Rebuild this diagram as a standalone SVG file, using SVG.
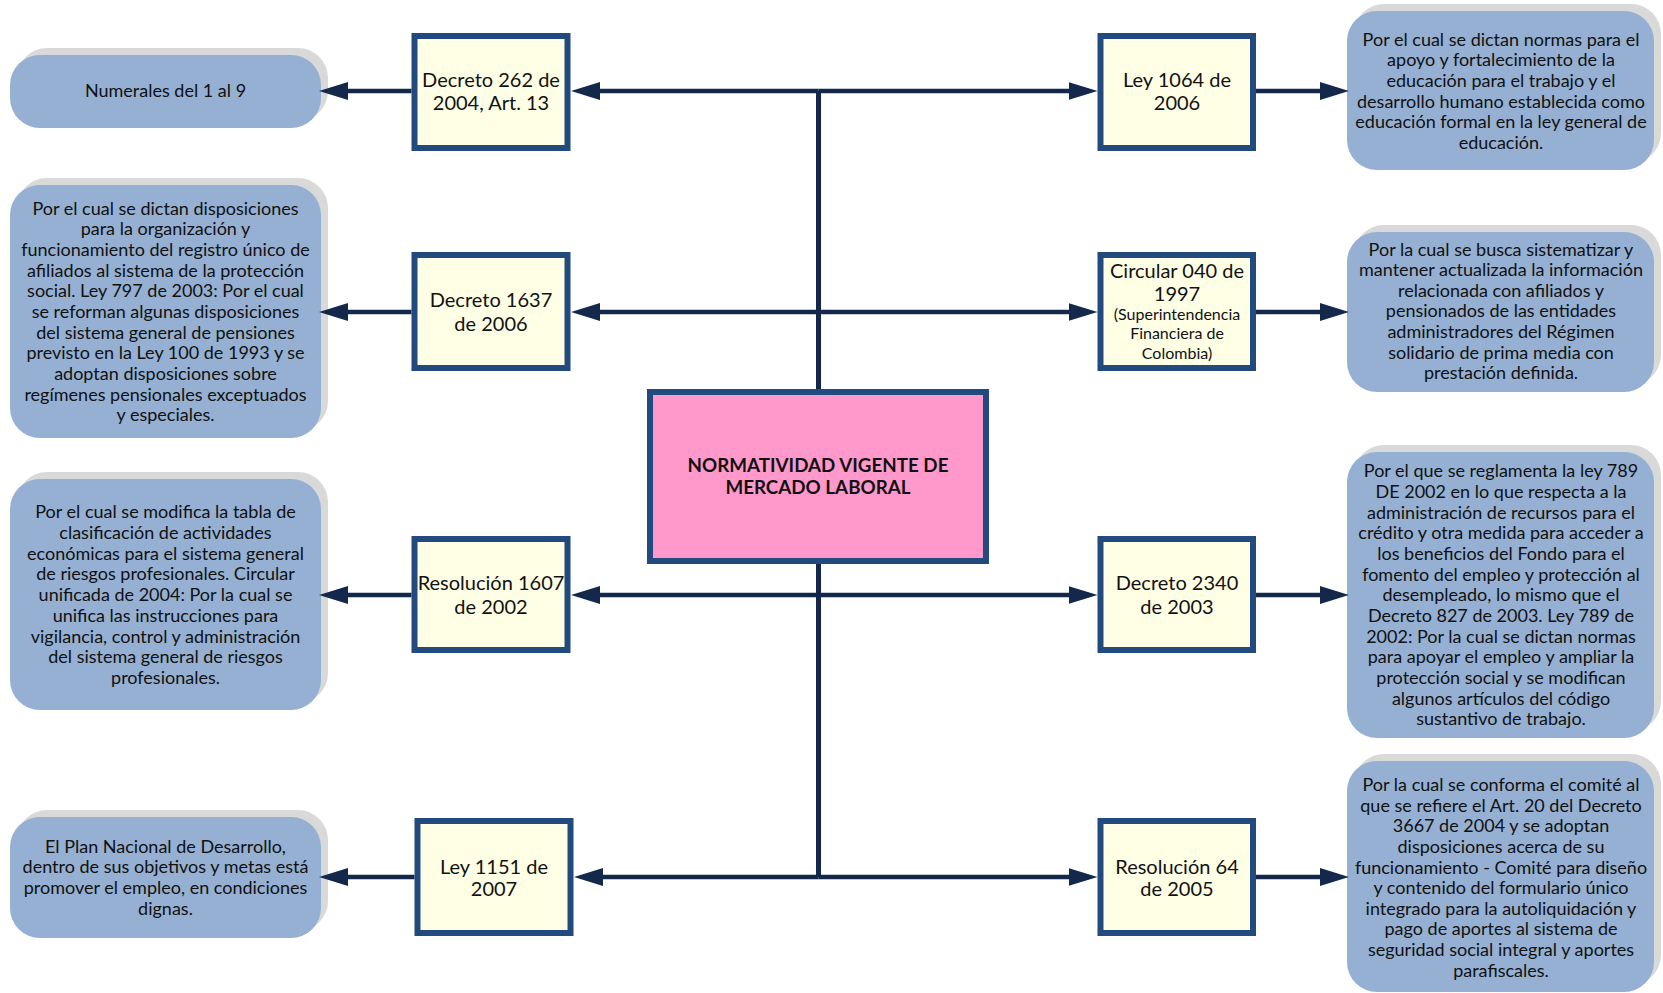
<svg xmlns="http://www.w3.org/2000/svg" width="1663" height="993" viewBox="0 0 1663 993">
<defs>
<style>
.pill{fill:#95b0d2;}
.shadow{fill:#d9d9d9;}
.box{fill:#ffffe6;stroke:#224a7e;stroke-width:6;}
.main{fill:#ff99cc;stroke:#224a7e;stroke-width:6;}
.conn{stroke:#13284a;stroke-width:4.5;fill:none;}
.trunk{stroke:#13284a;stroke-width:5;fill:none;}
.pt{font-family:Lato,"Liberation Sans",sans-serif;font-size:18px;fill:#111;text-anchor:middle;}
.bt{font-family:Lato,"Liberation Sans",sans-serif;font-size:20px;fill:#111;text-anchor:middle;}
.st{font-family:Lato,"Liberation Sans",sans-serif;font-size:16px;fill:#111;text-anchor:middle;}
.tt{font-family:Lato,"Liberation Sans",sans-serif;font-size:18.8px;font-weight:bold;fill:#111;text-anchor:middle;}
</style>
<marker id="ah" viewBox="0 0 29 18" markerWidth="29" markerHeight="18" refX="9" refY="9" orient="auto" markerUnits="userSpaceOnUse">
<path d="M0,0 L29,9 L0,18 z" fill="#13284a"/>
</marker>
</defs>
<rect width="1663" height="993" fill="#ffffff"/>

<g id="pill-l1">
<rect class="shadow" x="17" y="48" width="311" height="73" rx="30"/>
<rect class="pill" x="10" y="55" width="311" height="73" rx="30"/>
<text class="pt" x="165.5" y="97.3">Numerales del 1 al 9</text>
</g>
<g id="pill-l2">
<rect class="shadow" x="17" y="178" width="311" height="253" rx="30"/>
<rect class="pill" x="10" y="185" width="311" height="253" rx="30"/>
<text class="pt" x="165.5" y="214.6">Por el cual se dictan disposiciones<tspan x="165.5" dy="20.68">para la organización y</tspan><tspan x="165.5" dy="20.68">funcionamiento del registro único de</tspan><tspan x="165.5" dy="20.68">afiliados al sistema de la protección</tspan><tspan x="165.5" dy="20.68">social. Ley 797 de 2003: Por el cual</tspan><tspan x="165.5" dy="20.68">se reforman algunas disposiciones</tspan><tspan x="165.5" dy="20.68">del sistema general de pensiones</tspan><tspan x="165.5" dy="20.68">previsto en la Ley 100 de 1993 y se</tspan><tspan x="165.5" dy="20.68">adoptan disposiciones sobre</tspan><tspan x="165.5" dy="20.68">regímenes pensionales exceptuados</tspan><tspan x="165.5" dy="20.68">y especiales.</tspan></text>
</g>
<g id="pill-l3">
<rect class="shadow" x="17" y="472" width="311" height="231" rx="30"/>
<rect class="pill" x="10" y="479" width="311" height="231" rx="30"/>
<text class="pt" x="165.5" y="518.3">Por el cual se modifica la tabla de<tspan x="165.5" dy="20.7">clasificación de actividades</tspan><tspan x="165.5" dy="20.7">económicas para el sistema general</tspan><tspan x="165.5" dy="20.7">de riesgos profesionales. Circular</tspan><tspan x="165.5" dy="20.7">unificada de 2004: Por la cual se</tspan><tspan x="165.5" dy="20.7">unifica las instrucciones para</tspan><tspan x="165.5" dy="20.7">vigilancia, control y administración</tspan><tspan x="165.5" dy="20.7">del sistema general de riesgos</tspan><tspan x="165.5" dy="20.7">profesionales.</tspan></text>
</g>
<g id="pill-l4">
<rect class="shadow" x="17" y="810" width="311" height="121" rx="30"/>
<rect class="pill" x="10" y="817" width="311" height="121" rx="30"/>
<text class="pt" x="165.5" y="852.8">El Plan Nacional de Desarrollo,<tspan x="165.5" dy="20.6">dentro de sus objetivos y metas está</tspan><tspan x="165.5" dy="20.6">promover el empleo, en condiciones</tspan><tspan x="165.5" dy="20.6">dignas.</tspan></text>
</g>

<g id="pill-r1">
<rect class="shadow" x="1354" y="4" width="307" height="159" rx="30"/>
<rect class="pill" x="1347" y="11" width="307" height="159" rx="30"/>
<text class="pt" x="1501" y="45.6">Por el cual se dictan normas para el<tspan x="1501" dy="20.7">apoyo y fortalecimiento de la</tspan><tspan x="1501" dy="20.7">educación para el trabajo y el</tspan><tspan x="1501" dy="20.7">desarrollo humano establecida como</tspan><tspan x="1501" dy="20.7">educación formal en la ley general de</tspan><tspan x="1501" dy="20.7">educación.</tspan></text>
</g>
<g id="pill-r2">
<rect class="shadow" x="1354" y="225" width="307" height="160" rx="30"/>
<rect class="pill" x="1347" y="232" width="307" height="160" rx="30"/>
<text class="pt" x="1501" y="255.5">Por la cual se busca sistematizar y<tspan x="1501" dy="20.65">mantener actualizada la información</tspan><tspan x="1501" dy="20.65">relacionada con afiliados y</tspan><tspan x="1501" dy="20.65">pensionados de las entidades</tspan><tspan x="1501" dy="20.65">administradores del Régimen</tspan><tspan x="1501" dy="20.65">solidario de prima media con</tspan><tspan x="1501" dy="20.65">prestación definida.</tspan></text>
</g>
<g id="pill-r3">
<rect class="shadow" x="1354" y="445" width="307" height="286" rx="30"/>
<rect class="pill" x="1347" y="452" width="307" height="286" rx="30"/>
<text class="pt" x="1501" y="477.2">Por el que se reglamenta la ley 789<tspan x="1501" dy="20.68">DE 2002 en lo que respecta a la</tspan><tspan x="1501" dy="20.68">administración de recursos para el</tspan><tspan x="1501" dy="20.68">crédito y otra medida para acceder a</tspan><tspan x="1501" dy="20.68">los beneficios del Fondo para el</tspan><tspan x="1501" dy="20.68">fomento del empleo y protección al</tspan><tspan x="1501" dy="20.68">desempleado, lo mismo que el</tspan><tspan x="1501" dy="20.68">Decreto 827 de 2003. Ley 789 de</tspan><tspan x="1501" dy="20.68">2002: Por la cual se dictan normas</tspan><tspan x="1501" dy="20.68">para apoyar el empleo y ampliar la</tspan><tspan x="1501" dy="20.68">protección social y se modifican</tspan><tspan x="1501" dy="20.68">algunos artículos del código</tspan><tspan x="1501" dy="20.68">sustantivo de trabajo.</tspan></text>
</g>
<g id="pill-r4">
<rect class="shadow" x="1354" y="754" width="307" height="231" rx="30"/>
<rect class="pill" x="1347" y="761" width="307" height="231" rx="30"/>
<text class="pt" x="1501" y="791.1">Por la cual se conforma el comité al<tspan x="1501" dy="20.62">que se refiere el Art. 20 del Decreto</tspan><tspan x="1501" dy="20.62">3667 de 2004 y se adoptan</tspan><tspan x="1501" dy="20.62">disposiciones acerca de su</tspan><tspan x="1501" dy="20.62">funcionamiento - Comité para diseño</tspan><tspan x="1501" dy="20.62">y contenido del formulario único</tspan><tspan x="1501" dy="20.62">integrado para la autoliquidación y</tspan><tspan x="1501" dy="20.62">pago de aportes al sistema de</tspan><tspan x="1501" dy="20.62">seguridad social integral y aportes</tspan><tspan x="1501" dy="20.62">parafiscales.</tspan></text>
</g>

<g id="connectors">
<path class="trunk" d="M818.5,91 V877"/>
<path class="conn" d="M818.5,91 H591" marker-end="url(#ah)"/>
<path class="conn" d="M818.5,91 H1077.5" marker-end="url(#ah)"/>
<path class="conn" d="M411.5,91 H339" marker-end="url(#ah)"/>
<path class="conn" d="M1256,91 H1329" marker-end="url(#ah)"/>
<path class="conn" d="M818.5,312 H591" marker-end="url(#ah)"/>
<path class="conn" d="M818.5,312 H1077.5" marker-end="url(#ah)"/>
<path class="conn" d="M411.5,312 H339" marker-end="url(#ah)"/>
<path class="conn" d="M1256,312 H1329" marker-end="url(#ah)"/>
<path class="conn" d="M818.5,595 H591" marker-end="url(#ah)"/>
<path class="conn" d="M818.5,595 H1077.5" marker-end="url(#ah)"/>
<path class="conn" d="M411.5,595 H339" marker-end="url(#ah)"/>
<path class="conn" d="M1256,595 H1329" marker-end="url(#ah)"/>
<path class="conn" d="M818.5,877 H594" marker-end="url(#ah)"/>
<path class="conn" d="M818.5,877 H1077.5" marker-end="url(#ah)"/>
<path class="conn" d="M414.5,877 H339" marker-end="url(#ah)"/>
<path class="conn" d="M1256,877 H1329" marker-end="url(#ah)"/>
</g>

<g id="decreto262">
<rect class="box" x="414.5" y="36" width="153" height="112"/>
<text class="bt" x="491" y="86.5">Decreto 262 de</text>
<text class="bt" x="491" y="110">2004, Art. 13</text>
</g>
<g id="decreto1637">
<rect class="box" x="414.5" y="255" width="153" height="113"/>
<text class="bt" x="491" y="307">Decreto 1637</text>
<text class="bt" x="491" y="330.5">de 2006</text>
</g>
<g id="resolucion1607">
<rect class="box" x="414.5" y="539" width="153" height="111"/>
<text class="bt" x="491" y="590.3">Resolución 1607</text>
<text class="bt" x="491" y="613.7">de 2002</text>
</g>
<g id="ley1151">
<rect class="box" x="417.5" y="821" width="153" height="112"/>
<text class="bt" x="494" y="873.5">Ley 1151 de</text>
<text class="bt" x="494" y="895.8">2007</text>
</g>

<g id="ley1064">
<rect class="box" x="1100.5" y="36" width="152.5" height="112"/>
<text class="bt" x="1177" y="86.5">Ley 1064 de</text>
<text class="bt" x="1177" y="110">2006</text>
</g>
<g id="circular040">
<rect class="box" x="1100.5" y="255" width="152.5" height="113"/>
<text class="bt" x="1177" y="277.5">Circular 040 de</text>
<text class="bt" x="1177" y="300.8">1997</text>
<text class="st" x="1177" y="319.5">(Superintendencia</text>
<text class="st" x="1177" y="338.8">Financiera de</text>
<text class="st" x="1177" y="358.8">Colombia)</text>
</g>
<g id="decreto2340">
<rect class="box" x="1100.5" y="539" width="152.5" height="111"/>
<text class="bt" x="1177" y="590.3">Decreto 2340</text>
<text class="bt" x="1177" y="613.7">de 2003</text>
</g>
<g id="resolucion64">
<rect class="box" x="1100.5" y="821" width="152.5" height="112"/>
<text class="bt" x="1177" y="873.5">Resolución 64</text>
<text class="bt" x="1177" y="895.8">de 2005</text>
</g>

<g id="main">
<rect class="main" x="650" y="392" width="336" height="169"/>
<text class="tt" x="818" y="471.5">NORMATIVIDAD VIGENTE DE</text>
<text class="tt" x="818" y="494">MERCADO LABORAL</text>
</g>
</svg>
